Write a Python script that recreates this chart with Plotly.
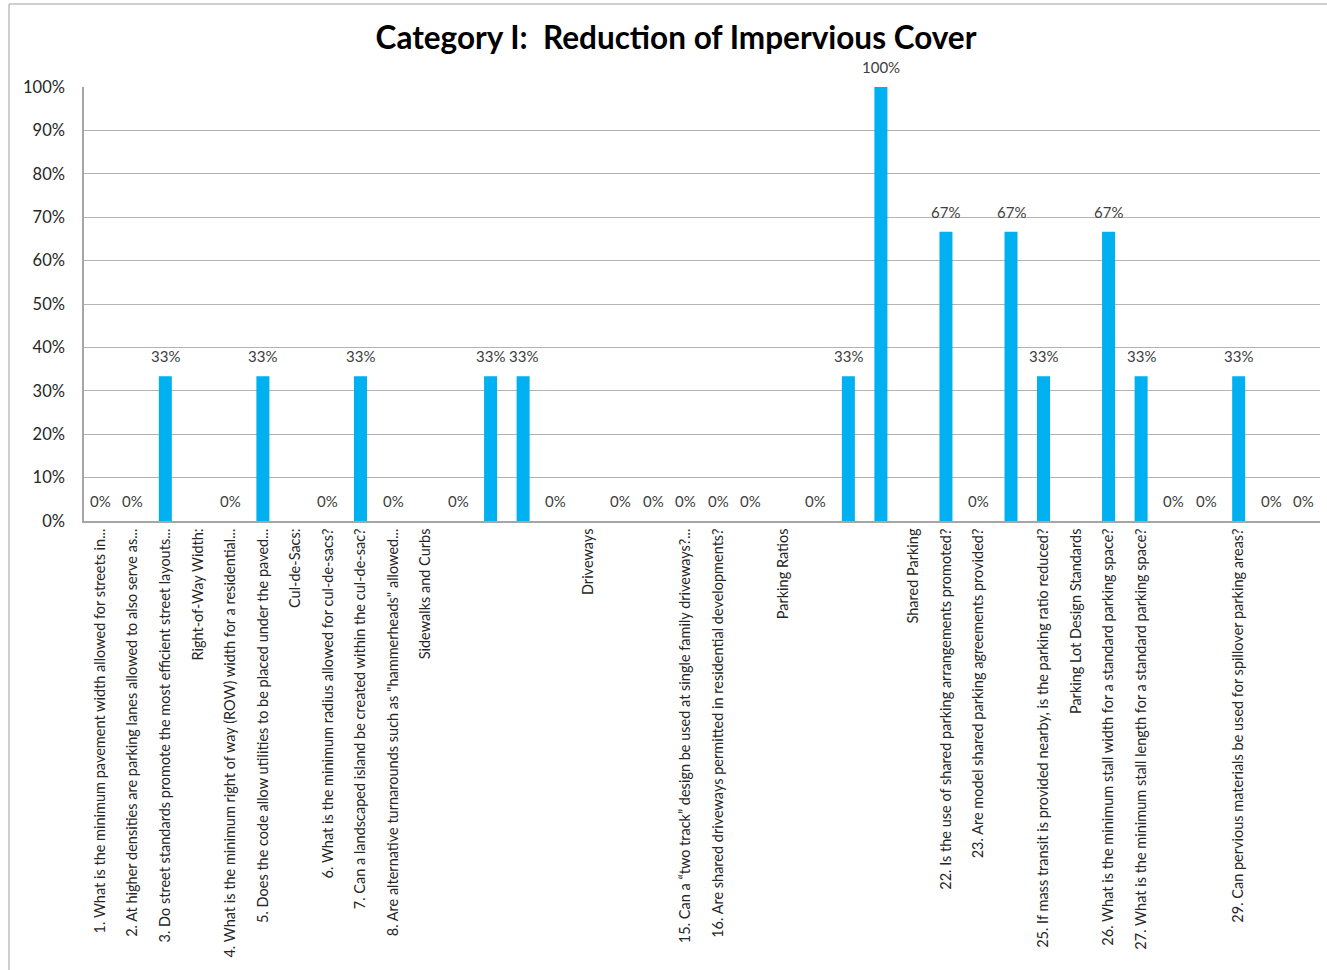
import plotly.graph_objects as go

categories = [
    "1. What is the minimum pavement width allowed for streets in...",
    "2. At higher densities are parking lanes allowed to also serve as...",
    "3. Do street standards promote the most efficient street layouts...",
    "Right-of-Way Width:",
    "4. What is the minimum right of way (ROW) width for a residential...",
    "5. Does the code allow utilities to be placed under the paved...",
    "Cul-de-Sacs:",
    "6. What is the minimum radius allowed for cul-de-sacs?",
    "7. Can a landscaped island be created within the cul-de-sac?",
    "8. Are alternative turnarounds such as \"hammerheads\" allowed...",
    "Sidewalks and Curbs",
    "", "", "", "",
    "Driveways",
    "", "",
    "15. Can a \u201ctwo track\u201d design be used at single family driveways?...",
    "16. Are shared driveways permitted in residential developments?",
    "",
    "Parking Ratios",
    "", "", "",
    "Shared Parking",
    "22. Is the use of shared parking arrangements promoted?",
    "23. Are model shared parking agreements provided?",
    "",
    "25. If mass transit is provided nearby, is the parking ratio reduced?",
    "Parking Lot Design Standards",
    "26. What is the minimum stall width for a standard parking space?",
    "27. What is the minimum stall length for a standard parking space?",
    "", "",
    "29. Can pervious materials be used for spillover parking areas?",
    "", "",
]

values = [
    0, 0, 1/3, None, 0, 1/3, None, 0, 1/3, 0,
    None, 0, 1/3, 1/3, 0, None, 0, 0, 0, 0,
    0, None, 0, 1/3, 1.0, None, 2/3, 0, 2/3, 1/3,
    None, 2/3, 1/3, 0, 0, 1/3, 0, 0,
]

positions = list(range(len(categories)))
FONT = "Lato, Open Sans, sans-serif"

W, H = 1327, 970
L, T, PW, PH = 84, 87, 1236, 434

fig = go.Figure()
fig.add_trace(go.Bar(
    x=positions,
    y=values,
    marker=dict(color="#00B0F0", line=dict(width=0)),
    width=0.4,
    hoverinfo="skip",
))

annotations = [
    dict(x=p, y=v, xref="x", yref="y", text=f"{round(v*100)}%",
         showarrow=False, yanchor="bottom", xanchor="center", yshift=10,
         borderpad=0,
         font=dict(family=FONT, size=15, color="#404040"))
    for p, v in zip(positions, values) if v is not None
]

fig.update_layout(
    width=W, height=H,
    margin=dict(l=L, r=W - L - PW, t=T, b=H - T - PH),
    paper_bgcolor="white",
    plot_bgcolor="white",
    showlegend=False,
    annotations=annotations,
    title=dict(
        text="<b>Category I:  Reduction of Impervious Cover</b>",
        x=(676 - L) / PW, xanchor="center", xref="paper",
        y=1 - 38 / H, yanchor="middle",
        font=dict(family=FONT, size=31.5, color="black"),
    ),
    xaxis=dict(
        range=[-0.5, len(categories) - 0.5],
        tickmode="array",
        tickvals=positions,
        ticktext=categories,
        tickangle=-90,
        tickfont=dict(family=FONT, size=14.5, color="#262626"),
        showgrid=False,
        showline=True, linecolor="#a6a6a6", linewidth=1.5,
        ticks="", zeroline=False,
    ),
    yaxis=dict(
        range=[0, 1],
        tickmode="linear", tick0=0, dtick=0.1,
        tickformat=".0%",
        tickfont=dict(family=FONT, size=16.5, color="#262626"),
        showgrid=True, gridcolor="#b3b3b3", gridwidth=1.2,
        showline=True, linecolor="#a6a6a6", linewidth=1.5,
        ticks="", zeroline=False,
        ticklabelstandoff=14,
    ),
    bargap=0.6,
    shapes=[
        dict(type="line", xref="paper", yref="paper",
             x0=(9 - L) / PW, x1=(1340 - L) / PW,
             y0=1 + (T - 4) / PH, y1=1 + (T - 4) / PH,
             line=dict(color="#bfbfbf", width=1.5)),
        dict(type="line", xref="paper", yref="paper",
             x0=(9 - L) / PW, x1=(9 - L) / PW,
             y0=1 + (T - 4) / PH, y1=-(990 - T - PH) / PH,
             line=dict(color="#bfbfbf", width=1.5)),
    ],
)

fig.write_html(
    "out.html",
    config={"displayModeBar": False},
    post_script="document.body.style.margin='0px';document.body.style.overflow='hidden';",
)
